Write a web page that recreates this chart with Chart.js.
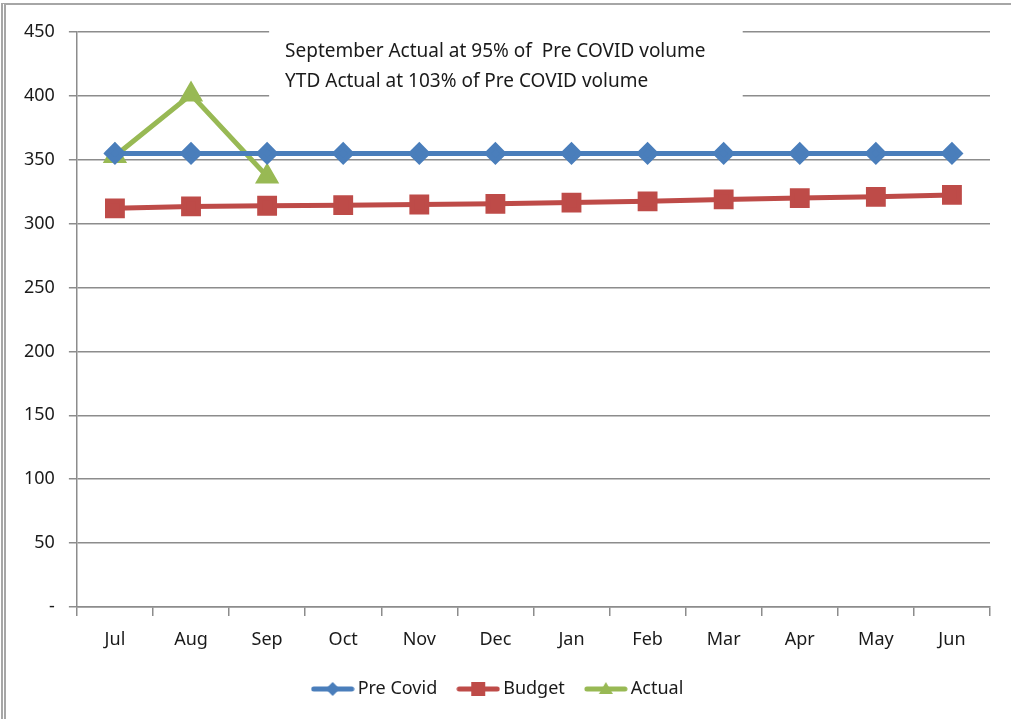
<!DOCTYPE html>
<html>
<head>
<meta charset="utf-8">
<script src="https://cdn.jsdelivr.net/npm/chart.js@4.4.0/dist/chart.umd.min.js"></script>
<style>
  html, body { margin: 0; padding: 0; background: #fff; }
  #wrap { position: relative; width: 1011px; height: 719px; }
  #frame { position: absolute; left: 1px; top: 3px; width: 1030px; height: 740px;
           border-left: 5px double #a6a6a6; border-top: 2px solid #a6a6a6; pointer-events: none; }
</style>
</head>
<body>
<div id="wrap">
  <canvas id="myChart" width="1011" height="719"></canvas>
  <div id="frame"></div>
</div>
<script>
const months = ['Jul', 'Aug', 'Sep', 'Oct', 'Nov', 'Dec', 'Jan', 'Feb', 'Mar', 'Apr', 'May', 'Jun']
const preCovid = [355, 355, 355, 355, 355, 355, 355, 355, 355, 355, 355, 355]
const budget = [312, 313.5, 314, 314.5, 315, 315.5, 316.5, 317.5, 319, 320, 321, 322.5]
const actual = [353, 401, 337]
const noteLines = ['September Actual at 95% of  Pre COVID volume', 'YTD Actual at 103% of Pre COVID volume']

const FONT = "'Noto Sans', sans-serif"
const GRID = '#8c8c8c'

const legendIcon = (color, style) => {
    const c = document.createElement('canvas')
    c.width = 44
    c.height = 18
    const ctx = c.getContext('2d')
    ctx.strokeStyle = color
    ctx.fillStyle = color
    ctx.lineWidth = 5
    ctx.lineCap = 'round'
    ctx.beginPath()
    ctx.moveTo(3, 9)
    ctx.lineTo(41, 9)
    ctx.stroke()
    ctx.beginPath()
    if (style === 'diamond') {
        ctx.moveTo(22, 2); ctx.lineTo(29, 9); ctx.lineTo(22, 16); ctx.lineTo(15, 9)
    } else if (style === 'square') {
        ctx.rect(15, 2, 14, 14)
    } else {
        ctx.moveTo(22, 2); ctx.lineTo(29, 14); ctx.lineTo(15, 14)
    }
    ctx.closePath()
    ctx.fill()
    return c
}

const notePlugin = {
    id: 'note',
    afterDraw(chart) {
        const { ctx, scales } = chart
        const x = scales.x
        const y = scales.y
        const left = x.getPixelForValue(2) + 2
        const right = x.getPixelForValue(8.25)
        const top = y.getPixelForValue(458)
        const bottom = y.getPixelForValue(392)
        ctx.save()
        ctx.fillStyle = '#fff'
        ctx.fillRect(left, top, right - left, bottom - top)
        ctx.fillStyle = '#1a1a1a'
        ctx.font = '19px ' + FONT
        ctx.textBaseline = 'middle'
        ctx.fillText(noteLines[0], left + 16, y.getPixelForValue(435))
        ctx.fillText(noteLines[1], left + 16, y.getPixelForValue(411))
        ctx.restore()
    }
}

const datasets = [
    {
        label: 'Pre Covid',
        data: preCovid,
        borderColor: '#4a7ebb',
        backgroundColor: '#4a7ebb',
        borderWidth: 5,
        pointStyle: 'rectRot',
        pointRadius: 8,
        legendIcon: legendIcon('#4a7ebb', 'diamond')
    },
    {
        label: 'Budget',
        data: budget,
        borderColor: '#be4b48',
        backgroundColor: '#be4b48',
        borderWidth: 5,
        pointStyle: 'rect',
        pointRadius: 10.5,
        legendIcon: legendIcon('#be4b48', 'square')
    },
    {
        label: 'Actual',
        data: actual,
        borderColor: '#98b954',
        backgroundColor: '#98b954',
        borderWidth: 5,
        pointStyle: 'triangle',
        pointRadius: 9,
        legendIcon: legendIcon('#98b954', 'triangle')
    }
]

const config = {
    type: 'line',
    data: { labels: months, datasets },
    plugins: [notePlugin],
    options: {
        responsive: false,
        animation: false,
        layout: { padding: { left: 10, right: 21, top: 32, bottom: 11 } },
        elements: { line: { tension: 0 }, point: { borderWidth: 0 } },
        plugins: {
            tooltip: { enabled: false },
            legend: {
                position: 'bottom',
                labels: {
                    usePointStyle: true,
                    pointStyleWidth: 32,
                    color: '#1a1a1a',
                    font: { family: FONT, size: 18 },
                    padding: 25,
                    generateLabels: (chart) => chart.data.datasets.map((ds, i) => ({
                        text: ds.label,
                        pointStyle: ds.legendIcon,
                        fillStyle: ds.borderColor,
                        strokeStyle: ds.borderColor,
                        lineWidth: 0,
                        fontColor: '#1a1a1a',
                        datasetIndex: i
                    }))
                }
            }
        },
        scales: {
            x: {
                offset: true,
                afterFit: (scale) => { scale.height = 48 },
                grid: { display: true, drawOnChartArea: false, offset: true, tickLength: 9, color: GRID, lineWidth: 1.5 },
                border: { color: GRID, width: 1.5 },
                ticks: { color: '#1a1a1a', font: { family: FONT, size: 18 }, padding: 13, maxRotation: 0 }
            },
            y: {
                min: 0,
                max: 450,
                grid: { color: GRID, lineWidth: 1.5, tickLength: 8 },
                border: { color: GRID, width: 1.5 },
                ticks: {
                    stepSize: 50,
                    color: '#1a1a1a',
                    font: { family: FONT, size: 18 },
                    padding: 14,
                    callback: (v) => v === 0 ? '-' : v
                }
            }
        }
    }
}

new Chart(document.getElementById('myChart'), config)
</script>
</body>
</html>
